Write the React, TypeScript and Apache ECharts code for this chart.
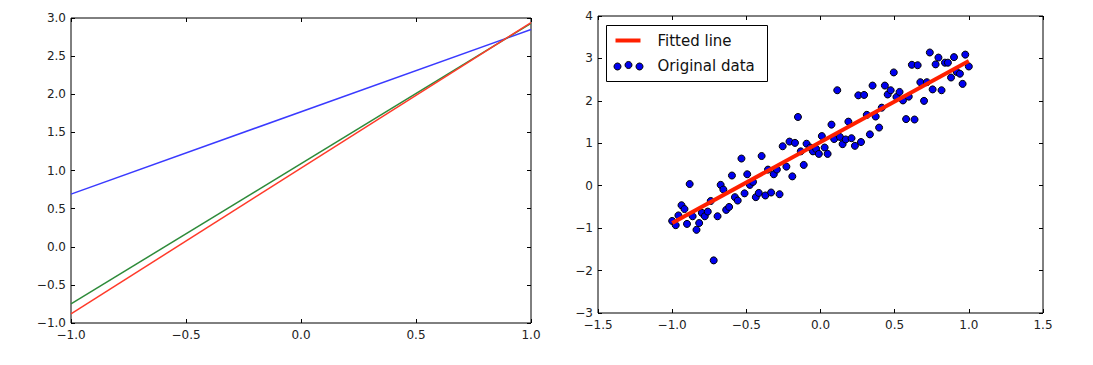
import React, { useEffect, useRef } from "react";
import * as echarts from "echarts";

// Left panel: three fitted lines at successive training stages
const lineX = [-1, 1];
const blueLine = [0.69, 2.85];
const greenLine = [-0.75, 2.93];
const redLine = [-0.88, 2.94];

// Right panel: original data and fitted line
const dataX = [
  -1.0, -0.976, -0.958, -0.937, -0.917, -0.9, -0.882, -0.862, -0.836, -0.818,
  -0.8, -0.78, -0.76, -0.74, -0.72, -0.694, -0.673, -0.655, -0.636, -0.616,
  -0.597, -0.577, -0.558, -0.533, -0.512, -0.494, -0.476, -0.455, -0.436, -0.416,
  -0.397, -0.372, -0.354, -0.333, -0.315, -0.294, -0.276, -0.255, -0.23, -0.209,
  -0.19, -0.172, -0.152, -0.133, -0.113, -0.094, -0.069, -0.051, -0.03, -0.011,
  0.009, 0.028, 0.048, 0.074, 0.092, 0.113, 0.131, 0.149, 0.17, 0.188,
  0.209, 0.232, 0.255, 0.273, 0.294, 0.312, 0.333, 0.351, 0.372, 0.395,
  0.413, 0.434, 0.453, 0.473, 0.494, 0.512, 0.533, 0.556, 0.577, 0.595,
  0.616, 0.634, 0.655, 0.673, 0.698, 0.717, 0.737, 0.756, 0.776, 0.795,
  0.816, 0.839, 0.859, 0.88, 0.9, 0.919, 0.94, 0.958, 0.976, 1.0,
];
const dataY = [
  -0.83, -0.93, -0.7, -0.46, -0.55, -0.9, 0.04, -0.72, -1.04, -0.88,
  -0.64, -0.72, -0.61, -0.36, -1.76, -0.72, 0.02, -0.09, -0.57, -0.5,
  0.24, -0.27, -0.35, 0.64, -0.18, 0.27, 0.02, 0.09, -0.27, -0.17,
  0.7, -0.23, 0.38, -0.16, 0.27, 0.38, -0.2, 0.93, 0.45, 1.04,
  0.22, 1.01, 1.62, 0.81, 0.49, 0.99, 0.9, 0.81, 0.87, 0.75,
  1.17, 0.9, 0.75, 1.44, 1.1, 2.25, 1.15, 0.98, 1.09, 1.51,
  1.12, 0.94, 2.13, 1.03, 2.14, 1.67, 1.21, 2.36, 1.63, 1.37,
  1.84, 2.36, 2.15, 2.25, 2.67, 2.09, 2.21, 2.01, 1.57, 2.1,
  2.85, 1.56, 2.84, 2.44, 2.0, 2.44, 3.14, 2.27, 2.86, 3.02,
  2.25, 2.9, 2.9, 2.55, 3.03, 2.68, 2.64, 2.4, 3.09, 2.81,
];
const fittedX = [-1, 1];
const fittedY = [-0.88, 2.94];

const MINUS = "\u2212";
const fmt1 = (v: number) => (Math.abs(v) < 1e-9 ? "0.0" : v.toFixed(1)).replace("-", MINUS);
const fmt0 = (v: number) => (Math.abs(v) < 1e-9 ? "0" : v.toFixed(0)).replace("-", MINUS);

const FONT = "DejaVu Sans";
const labelStyle = { color: "#222", fontSize: 12, fontFamily: FONT };

function makeAxis(
  kind: "x" | "y",
  gridIndex: number,
  min: number,
  max: number,
  interval: number,
  showLabel: boolean,
  position: string,
  fmt: (v: number) => string
) {
  return {
    type: "value",
    gridIndex,
    min,
    max,
    interval,
    position,
    axisLine: { show: false, onZero: false },
    axisTick: { show: true, inside: true, length: 4, lineStyle: { color: "#000", width: 1 } },
    splitLine: { show: false },
    axisLabel: {
      show: showLabel,
      ...labelStyle,
      margin: kind === "x" ? 6 : 5,
      showMinLabel: true,
      showMaxLabel: true,
      formatter: (v: number) => fmt(v),
    },
  };
}

export default function App() {
  const ref = useRef<HTMLDivElement>(null);
  useEffect(() => {
    if (!ref.current) return;
    const chart = echarts.init(ref.current, undefined, { renderer: "svg" });
    const lineSeries = (ys: number[], color: string, width: number, xi: number, yi: number, z = 2) => ({
      type: "line",
      xAxisIndex: xi,
      yAxisIndex: yi,
      data: lineX.map((x, i) => [x, ys[i]]),
      showSymbol: false,
      symbol: "none",
      lineStyle: { color, width },
      z,
      silent: true,
    });
    chart.setOption({
      animation: false,
      backgroundColor: "#fff",
      grid: [
        { left: 71, top: 18, width: 460, height: 305, show: true, borderColor: "#000", borderWidth: 1, backgroundColor: "transparent" },
        { left: 598, top: 16, width: 445, height: 297, show: true, borderColor: "#000", borderWidth: 1, backgroundColor: "transparent" },
      ],
      xAxis: [
        makeAxis("x", 0, -1, 1, 0.5, true, "bottom", fmt1),
        makeAxis("x", 0, -1, 1, 0.5, false, "top", fmt1),
        makeAxis("x", 1, -1.5, 1.5, 0.5, true, "bottom", fmt1),
        makeAxis("x", 1, -1.5, 1.5, 0.5, false, "top", fmt1),
      ],
      yAxis: [
        makeAxis("y", 0, -1, 3, 0.5, true, "left", fmt1),
        makeAxis("y", 0, -1, 3, 0.5, false, "right", fmt1),
        makeAxis("y", 1, -3, 4, 1, true, "left", fmt0),
        makeAxis("y", 1, -3, 4, 1, false, "right", fmt0),
      ],
      series: [
        lineSeries(blueLine, "#3a3aff", 1.5, 0, 0),
        lineSeries(greenLine, "#2e8b3a", 1.5, 0, 0),
        lineSeries(redLine, "#ff3a2a", 1.5, 0, 0),
        {
          type: "scatter",
          name: "Original data",
          xAxisIndex: 2,
          yAxisIndex: 2,
          data: dataX.map((x, i) => [x, dataY[i]]),
          symbol: "circle",
          symbolSize: 7,
          itemStyle: { color: "#0000f0", borderColor: "#000", borderWidth: 1, opacity: 1 },
          z: 2,
          silent: true,
        },
        {
          type: "line",
          name: "Fitted line",
          xAxisIndex: 2,
          yAxisIndex: 2,
          data: fittedX.map((x, i) => [x, fittedY[i]]),
          showSymbol: false,
          symbol: "none",
          lineStyle: { color: "#ff2000", width: 4 },
          z: 3,
          silent: true,
        },
      ],
      graphic: [
        {
          type: "group",
          left: 606,
          top: 25,
          z: 10,
          children: [
            { type: "rect", shape: { x: 0, y: 0, width: 161, height: 56 }, style: { fill: "#fff", stroke: "#000", lineWidth: 1 } },
            { type: "line", shape: { x1: 9, y1: 15, x2: 34, y2: 15 }, style: { stroke: "#ff2000", lineWidth: 4 } },
            { type: "circle", shape: { cx: 11, cy: 41, r: 3.5 }, style: { fill: "#0000f0", stroke: "#000", lineWidth: 1 } },
            { type: "circle", shape: { cx: 22, cy: 39.5, r: 3.5 }, style: { fill: "#0000f0", stroke: "#000", lineWidth: 1 } },
            { type: "circle", shape: { cx: 33, cy: 41, r: 3.5 }, style: { fill: "#0000f0", stroke: "#000", lineWidth: 1 } },
            { type: "text", style: { text: "Fitted line", x: 51, y: 15, fill: "#111", fontSize: 15, fontFamily: FONT, align: "left", verticalAlign: "middle" } },
            { type: "text", style: { text: "Original data", x: 51, y: 40, fill: "#111", fontSize: 15, fontFamily: FONT, align: "left", verticalAlign: "middle" } },
          ],
        },
      ],
    });
    return () => chart.dispose();
  }, []);
  return (
    <div
      ref={ref}
      style={{ position: "fixed", left: 0, top: 0, width: 1093, height: 365, background: "#fff" }}
    />
  );
}
